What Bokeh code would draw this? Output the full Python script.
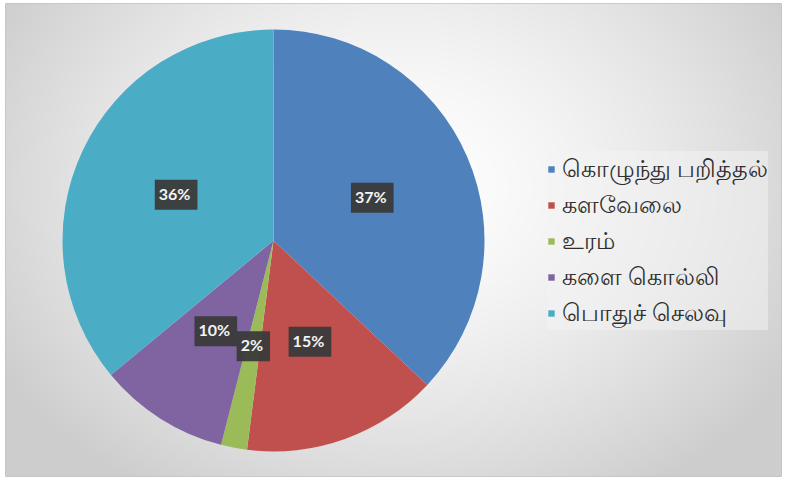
import numpy as np
from bokeh.plotting import figure
from bokeh.models import ColumnDataSource, Legend, LegendItem, Range1d
from bokeh.core.properties import value
from bokeh.embed import file_html
from bokeh.resources import INLINE

categories = ["கொழுந்து பறித்தல்", "களவேலை", "உரம்", "களை கொல்லி", "பொதுச் செலவு"]
shares = [37, 15, 2, 10, 36]
colors = ["#4F81BD", "#C0504D", "#9BBB59", "#8064A2", "#4BACC6"]

FW, FH = 776, 473
p = figure(frame_width=FW, frame_height=FH, x_range=Range1d(0, FW), y_range=Range1d(0, FH),
           output_backend="svg", toolbar_location=None,
           min_border_left=5, min_border_top=3, min_border_right=1, min_border_bottom=1)
p.axis.visible = False
p.grid.visible = False
p.outline_line_color = "#c4c4c4"
p.outline_line_width = 1

# background radial gradient
yy, xx = np.mgrid[0:FH, 0:FW]
cx, cy = 390, 290
d = np.sqrt(((xx - cx) / (FW * 0.58)) ** 2 + ((yy - cy) / (FH * 0.75)) ** 2)
g = np.clip(255 - 48 * d ** 1.5, 205, 255).astype(np.uint8)
img = np.empty((FH, FW), dtype=np.uint32)
view = img.view(dtype=np.uint8).reshape((FH, FW, 4))
view[..., 0] = g
view[..., 1] = g
view[..., 2] = g
view[..., 3] = 255
p.image_rgba(image=[img], x=0, y=0, dw=FW, dh=FH)

# pie
pcx, pcy, R = 268, 236, 211
total = float(sum(shares))
cum = np.cumsum([0] + shares) / total
starts = np.pi / 2 - 2 * np.pi * cum[:-1]
ends = np.pi / 2 - 2 * np.pi * cum[1:]
mids = (starts + ends) / 2
src = ColumnDataSource(dict(start=starts, end=ends, color=colors, cat=categories))
wr = p.wedge(x=pcx, y=pcy, radius=R, start_angle="start", end_angle="end",
             direction="clock", fill_color="color", line_color=None, source=src)

lr = 0.51 * R
lab = ColumnDataSource(dict(x=pcx + lr * np.cos(mids), y=pcy + lr * np.sin(mids),
                            t=[f"{s:.0f}%" for s in shares]))
p.text(x="x", y="y", text="t", source=lab, text_align="center", text_baseline="middle",
       text_color="#f4f4f4", text_font=value("Lato"), text_font_style="bold",
       text_font_size="16px", background_fill_color="#3a3a3a", background_fill_alpha=0.95,
       padding=[4, 7, 4, 7])

items = [LegendItem(label=c, renderers=[wr], index=i) for i, c in enumerate(categories)]
legend = Legend(items=items, location=(542, 146), orientation="vertical",
                glyph_width=8, glyph_height=8, label_height=24, spacing=1,
                label_standoff=7, padding=5, margin=0,
                label_text_font="Noto Sans", label_text_font_size="24px",
                label_text_color="#2e2e2e", background_fill_color="#f4f4f4",
                background_fill_alpha=0.5, border_line_color=None)
p.add_layout(legend)

open("out.html", "w").write(file_html(p, INLINE))
